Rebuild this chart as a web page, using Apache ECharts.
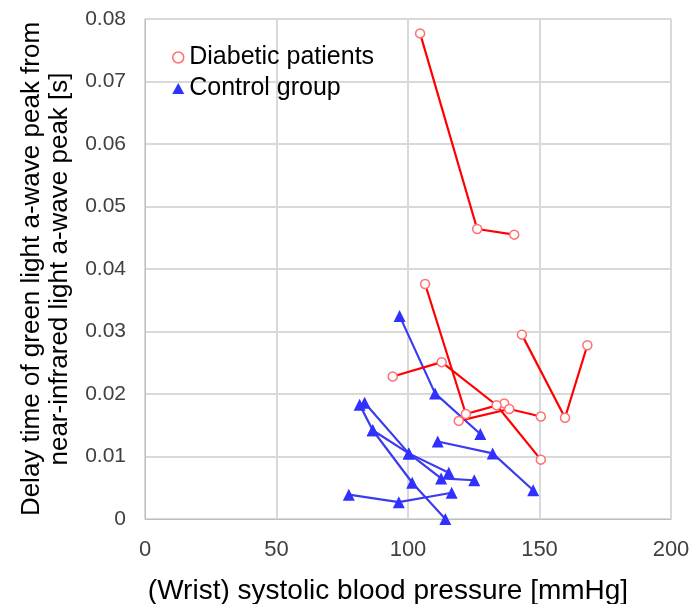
<!DOCTYPE html>
<html>
<head>
<meta charset="utf-8">
<script src="https://cdn.jsdelivr.net/npm/echarts@6/dist/echarts.min.js"></script>
<style>
  html, body { margin: 0; padding: 0; background: #fff; }
  #chart { width: 692px; height: 604px; }
</style>
</head>
<body>
<div id="chart"></div>
<script>
// each patient = one polyline of [systolic BP, delay]
var diabeticLines = [
  [[104.6, 0.0777], [126.3, 0.0464], [140.4, 0.0455]],
  [[106.5, 0.0376], [122.0, 0.0168], [136.6, 0.0185]],
  [[94.2, 0.0228], [112.8, 0.0251], [133.7, 0.0182], [150.5, 0.0095]],
  [[143.3, 0.0295], [159.7, 0.0162], [168.2, 0.0278]],
  [[119.3, 0.0157], [138.5, 0.0176], [150.5, 0.0164]]
];
var controlLines = [
  [[96.8, 0.0325], [110.3, 0.0201], [127.5, 0.0136]],
  [[111.3, 0.0124], [132.2, 0.0105], [147.6, 0.0046]],
  [[77.5, 0.0039], [96.5, 0.0027], [116.6, 0.0042]],
  [[81.6, 0.0183], [86.6, 0.0142], [101.6, 0.0058], [114.2, 0.0]],
  [[83.5, 0.0186], [100.3, 0.0105], [115.5, 0.0074]],
  [[86.6, 0.0142], [100.3, 0.0105], [112.6, 0.0065], [125.2, 0.0062]]
];
var xTicks = [0, 50, 100, 150, 200];
var yTicks = [0, 0.01, 0.02, 0.03, 0.04, 0.05, 0.06, 0.07, 0.08];

var font = "Liberation Sans, Arial, sans-serif";
var series = [];

diabeticLines.forEach(function(d) {
  series.push({
    name: "Diabetic patients",
    type: "line",
    data: d,
    symbol: "circle",
    symbolSize: 9,
    lineStyle: { color: "#ff0000", width: 2.2 },
    itemStyle: { color: "#fff", borderColor: "#ff7070", borderWidth: 1.5 },
    z: 3
  });
});
controlLines.forEach(function(d) {
  series.push({
    name: "Control group",
    type: "line",
    data: d,
    symbol: "triangle",
    symbolSize: 12,
    lineStyle: { color: "#3b3bf0", width: 2.2 },
    itemStyle: { color: "#3030ff" },
    z: 2
  });
});

var chart = echarts.init(document.getElementById("chart"));
chart.setOption({
  animation: false,
  textStyle: { fontFamily: font },
  grid: { left: 145, right: 21, top: 19, bottom: 85, outerBoundsMode: "none", containLabel: false },
  legend: {
    left: 167,
    top: 40,
    orient: "vertical",
    itemGap: 6,
    itemWidth: 12,
    itemHeight: 11,
    textStyle: { fontSize: 25, color: "#000", fontFamily: font },
    data: [
      { name: "Diabetic patients", icon: "circle",
        itemStyle: { color: "#fff", borderColor: "#ff7070", borderWidth: 1.5 } },
      { name: "Control group", icon: "triangle",
        itemStyle: { color: "#3030ff" } }
    ]
  },
  xAxis: {
    type: "value",
    min: xTicks[0],
    max: xTicks[xTicks.length - 1],
    interval: 50,
    name: "(Wrist) systolic blood pressure [mmHg]",
    nameLocation: "middle",
    nameGap: 58,
    nameTextStyle: { fontSize: 28, color: "#000", padding: [0, 40, 0, 0] },
    axisLine: { lineStyle: { color: "#bfbfbf", width: 1 } },
    axisTick: { show: false },
    axisLabel: { fontSize: 22, color: "#404040", margin: 20 },
    splitLine: { lineStyle: { color: "#d9d9d9", width: 2 } }
  },
  yAxis: {
    type: "value",
    min: yTicks[0],
    max: yTicks[yTicks.length - 1],
    interval: 0.01,
    name: "Delay time of green light a-wave peak from\nnear-infrared light a-wave peak [s]",
    nameLocation: "middle",
    nameGap: 63,
    nameTextStyle: { fontSize: 26, color: "#000", lineHeight: 28 },
    axisLine: { show: true, lineStyle: { color: "#bfbfbf", width: 1 } },
    axisTick: { show: false },
    axisLabel: {
      fontSize: 21, color: "#404040", margin: 19,
      formatter: function(v) { return v === 0 ? "0" : v.toFixed(2); }
    },
    splitLine: { lineStyle: { color: "#d9d9d9", width: 2 } }
  },
  series: series
});
</script>
</body>
</html>
